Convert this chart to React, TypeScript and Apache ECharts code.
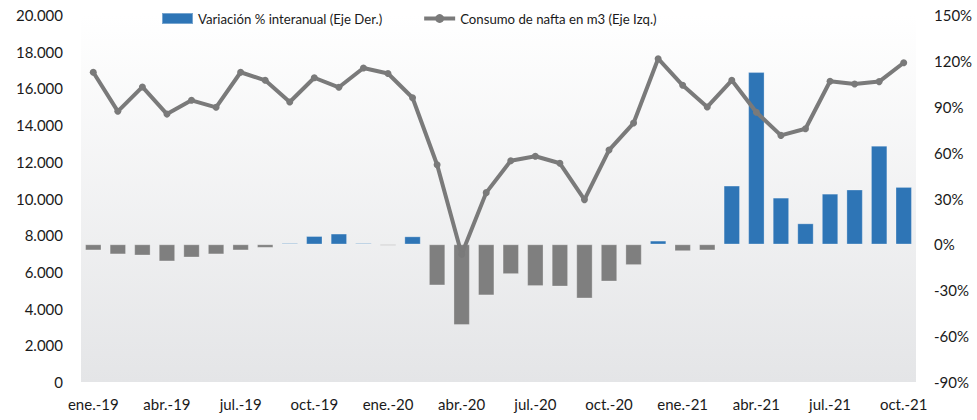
import React, { useEffect, useRef } from "react";
import * as echarts from "echarts";

const categories = [
  "ene.-19", "feb.-19", "mar.-19", "abr.-19", "may.-19", "jun.-19", "jul.-19", "ago.-19", "sep.-19", "oct.-19", "nov.-19", "dic.-19",
  "ene.-20", "feb.-20", "mar.-20", "abr.-20", "may.-20", "jun.-20", "jul.-20", "ago.-20", "sep.-20", "oct.-20", "nov.-20", "dic.-20",
  "ene.-21", "feb.-21", "mar.-21", "abr.-21", "may.-21", "jun.-21", "jul.-21", "ago.-21", "sep.-21", "oct.-21",
];

const consumo = [
  16880, 14750, 16080, 14600, 15350, 14970, 16880, 16440, 15260, 16580, 16060, 17110,
  16810, 15490, 11840, 6960, 10320, 12060, 12300, 11920, 9940, 12640, 14110, 17620,
  16170, 14990, 16440, 14700, 13440, 13800, 16390, 16240, 16370, 17400,
];

const variacion = [
  -3.9, -6.5, -7.2, -11.1, -8.5, -6.5, -3.9, -2.2, 0.8, 5.4, 7.0, 0.8,
  -0.8, 5.2, -26.8, -52.7, -33.3, -19.4, -27.2, -27.5, -35.3, -24.2, -13.5, 2.4,
  -4.4, -3.9, 38.4, 112.6, 30.5, 13.7, 33.1, 35.8, 64.5, 37.5,
];

const BLUE = "#2E75B6";
const GRAY_BAR = "#7F7F7F";
const LINE = "#7A7A7A";
const FONT = "Lato";

export default function App() {
  const ref = useRef<HTMLDivElement>(null);
  useEffect(() => {
    if (!ref.current) return;
    const chart = echarts.init(ref.current, undefined, { renderer: "svg" });
    chart.setOption({
      animation: false,
      backgroundColor: "#ffffff",
      textStyle: { fontFamily: FONT },
      legend: {
        left: 156,
        top: 7,
        itemGap: 40,
        itemWidth: 31,
        itemHeight: 11,
        textStyle: { fontFamily: FONT, fontSize: 13.2, color: "#1a1a1a" },
        data: [
          { name: "Variación % interanual (Eje Der.)", icon: "rect", itemStyle: { color: BLUE } },
          {
            name: "Consumo de nafta en m3 (Eje Izq.)",
            lineStyle: { width: 4, color: LINE },
            itemStyle: { color: LINE },
            symbolSize: 6,
          },
        ],
      },
      grid: {
        left: 81,
        right: 61,
        top: 15,
        bottom: 38,
        show: true,
        borderWidth: 0,
        backgroundColor: new echarts.graphic.LinearGradient(0, 0, 0, 1, [
          { offset: 0, color: "#ffffff" },
          { offset: 1, color: "#e4e5e7" },
        ]),
      },
      xAxis: {
        type: "category",
        data: categories,
        axisLine: { show: false },
        axisTick: { show: false },
        axisLabel: { interval: 2, margin: 14, fontSize: 15, color: "#1a1a1a", fontFamily: FONT },
      },
      yAxis: [
        {
          type: "value",
          min: 0,
          max: 20000,
          interval: 2000,
          splitLine: { show: false },
          axisLine: { show: false },
          axisTick: { show: false },
          axisLabel: {
            margin: 18,
            fontSize: 15,
            color: "#1a1a1a",
            fontFamily: FONT,
            formatter: (v: number) => v.toLocaleString("de-DE"),
          },
        },
        {
          type: "value",
          min: -90,
          max: 150,
          interval: 30,
          splitLine: { show: false },
          axisLine: { show: false },
          axisTick: { show: false },
          axisLabel: {
            margin: 18,
            fontSize: 15,
            color: "#1a1a1a",
            fontFamily: FONT,
            formatter: (v: number) => `${v}%`,
          },
        },
      ],
      series: [
        {
          name: "Variación % interanual (Eje Der.)",
          type: "bar",
          yAxisIndex: 1,
          data: variacion,
          barWidth: "66%",
          itemStyle: {
            color: (p: any) => (p.value >= 0 ? BLUE : GRAY_BAR),
            borderColor: "rgba(255,255,255,0.35)",
            borderWidth: 0.8,
          },
        },
        {
          name: "Consumo de nafta en m3 (Eje Izq.)",
          type: "line",
          yAxisIndex: 0,
          data: consumo,
          symbol: "circle",
          symbolSize: 7,
          z: 5,
          lineStyle: { color: LINE, width: 4 },
          itemStyle: { color: LINE },
        },
      ],
    });
    return () => chart.dispose();
  }, []);
  return (
    <div
      ref={ref}
      style={{ position: "fixed", left: 0, top: 0, width: 977, height: 420 }}
    />
  );
}
